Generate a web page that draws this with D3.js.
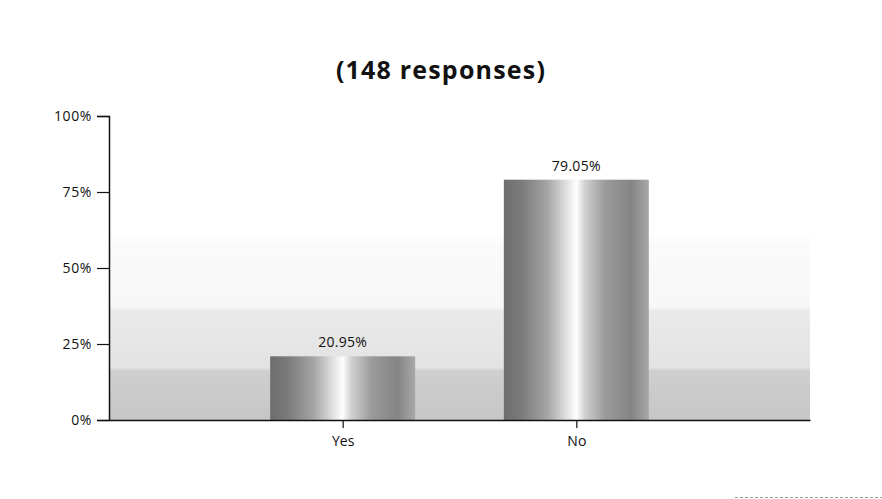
<!DOCTYPE html>
<html>
<head>
<meta charset="utf-8">
<script src="https://cdn.jsdelivr.net/npm/d3@7/dist/d3.min.js"></script>
<style>
  html, body { margin: 0; padding: 0; background: #fff; }
  svg { display: block; }
  text { font-family: "Open Sans", Lato, sans-serif; fill: #111; }
</style>
</head>
<body>
<svg id="chart" width="882" height="499"></svg>
<script>
const title = "(148 responses)";
const categories = ["Yes", "No"];
const values = [20.95, 79.05];
const valueLabels = ["20.95%", "79.05%"];
const yTicks = [0, 25, 50, 75, 100];
const yTickLabels = ["0%", "25%", "50%", "75%", "100%"];

const svg = d3.select("#chart");
const W = 882, H = 499;
const margin = { left: 109, right: 72, top: 116, bottom: 79 };
const x0 = margin.left, x1 = W - margin.right;
const y0 = H - margin.bottom, y1 = margin.top;

const x = d3.scalePoint().domain(categories).range([x0, x1]).padding(1);
const y = d3.scaleLinear().domain([0, 100]).range([y0, y1]);
const barW = 145;

const defs = svg.append("defs");
const bg = defs.append("linearGradient").attr("id", "bg")
  .attr("x1", 0).attr("y1", 1).attr("x2", 0).attr("y2", 0);
[[0, "#c6c6c6"], [0.26, "#cfcfcf"], [0.28, "#e3e3e3"], [0.58, "#eaeaea"],
 [0.6, "#f7f7f7"], [0.92, "#fafafa"], [1, "#ffffff"]]
  .forEach(([o, c]) => bg.append("stop").attr("offset", o).attr("stop-color", c));

const bar = defs.append("linearGradient").attr("id", "bar")
  .attr("x1", 0).attr("y1", 0).attr("x2", 1).attr("y2", 0);
[[0, "#6e6e6e"], [0.12, "#7a7a7a"], [0.3, "#a5a5a5"], [0.45, "#e8e8e8"],
 [0.5, "#ffffff"], [0.56, "#d0d0d0"], [0.7, "#9a9a9a"], [0.88, "#858585"],
 [1, "#a8a8a8"]]
  .forEach(([o, c]) => bar.append("stop").attr("offset", o).attr("stop-color", c));

// background band
svg.append("rect")
  .attr("x", x0).attr("y", y(62)).attr("width", x1 - x0).attr("height", y(0) - y(62))
  .attr("fill", "url(#bg)");

// title
svg.append("text")
  .attr("x", 441).attr("y", 79)
  .attr("text-anchor", "middle")
  .attr("font-size", 25).attr("font-weight", 700)
  .attr("letter-spacing", 1.2)
  .text(title);

// bars
svg.selectAll("rect.bar").data(values).join("rect")
  .attr("class", "bar")
  .attr("x", (d, i) => x(categories[i]) - barW / 2)
  .attr("width", barW)
  .attr("y", d => y(d))
  .attr("height", d => y(0) - y(d))
  .attr("fill", "url(#bar)");

// value labels
svg.selectAll("text.val").data(values).join("text")
  .attr("class", "val")
  .attr("x", (d, i) => x(categories[i]))
  .attr("y", d => y(d) - 9)
  .attr("text-anchor", "middle")
  .attr("font-size", 14).attr("letter-spacing", 0.3)
  .text((d, i) => valueLabels[i]);

// y axis
const yAxis = d3.axisLeft(y).tickValues(yTicks)
  .tickFormat((d, i) => yTickLabels[i]).tickSize(12).tickPadding(5);
const gy = svg.append("g").attr("transform", `translate(${x0},0)`).call(yAxis);
gy.select(".domain").attr("stroke", "#111").attr("stroke-width", 1.5);
gy.selectAll(".tick line").attr("stroke", "#111").attr("stroke-width", 1.2);
gy.selectAll(".tick text").attr("font-size", 14).attr("letter-spacing", 0.6)
  .attr("font-family", "'Open Sans', sans-serif").attr("fill", "#111");

// x axis
const xAxis = d3.axisBottom(x).tickSize(8).tickSizeOuter(0).tickPadding(8);
const gx = svg.append("g").attr("transform", `translate(0,${y0})`).call(xAxis);
gx.select(".domain").attr("stroke", "#111").attr("stroke-width", 1.5);
gx.selectAll(".tick line").attr("stroke", "#111").attr("stroke-width", 1.2);
gx.selectAll(".tick text").attr("font-size", 14)
  .attr("font-family", "'Open Sans', sans-serif").attr("fill", "#111");

// faint scan line bottom right
svg.append("line").attr("x1", 735).attr("x2", W).attr("y1", 497.5).attr("y2", 497.5)
  .attr("stroke", "#999").attr("stroke-width", 1).attr("stroke-dasharray", "3,2");
</script>
</body>
</html>
